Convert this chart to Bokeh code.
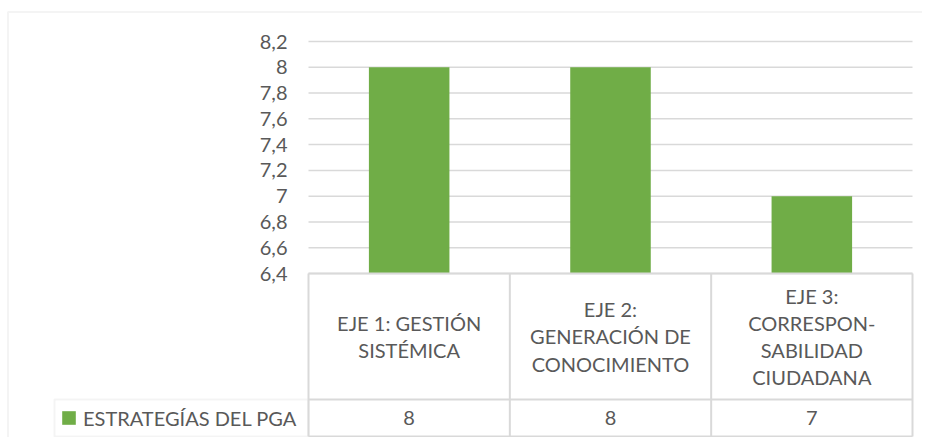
from bokeh.plotting import figure
from bokeh.models import (Range1d, FixedTicker, CustomJSTickFormatter, BoxAnnotation,
                          Legend, LegendItem, ColumnDataSource)
from bokeh.core.properties import value
from bokeh.embed import file_html
from bokeh.resources import INLINE

# ---------------- data ----------------
categories = ["EJE 1: GESTIÓN\nSISTÉMICA",
              "EJE 2:\nGENERACIÓN DE\nCONOCIMIENTO",
              "EJE 3:\nCORRESPON-\nSABILIDAD\nCIUDADANA"]
values = [8, 8, 7]
series_name = "ESTRATEGÍAS DEL PGA"
y_ticks = [6.4, 6.6, 6.8, 7.0, 7.2, 7.4, 7.6, 7.8, 8.0, 8.2]

# ---------------- layout (canvas pixels) ----------------
W, H = 922, 437
FONT = "Lato"
TXT = "#595959"
GRID = "#d9d9d9"
GREEN = "#70AD47"

x0_px, x3_px = 308, 912           # left / right edge of the plot columns
col_px = (x3_px - x0_px) / 3.0
y_top_px, y_base_px = 41, 273     # pixel rows of top / bottom tick
ypx = (y_base_px - y_top_px) / (y_ticks[-1] - y_ticks[0])
row_px, bot_px = 399, 436         # data table: row divider, bottom edge

def xd(c):
    return (c - x0_px) / col_px

def td(c):  # table range coordinate (pixels from canvas bottom)
    return H - c

x_range = Range1d(xd(0), xd(W))
y_range = Range1d(y_ticks[0] - (H - y_base_px) / ypx,
                  y_ticks[-1] + y_top_px / ypx)

p = figure(width=W, height=H, x_range=x_range, y_range=y_range,
           output_backend="svg", toolbar_location=None,
           x_axis_location=None, y_axis_location=None,
           min_border=0)
p.extra_y_ranges = {"tbl": Range1d(0, H)}
p.outline_line_color = None
p.background_fill_color = "white"
p.border_fill_color = "white"
p.xgrid.visible = False
p.ygrid.visible = False

# y axis drawn at the left edge of the plot columns
from bokeh.models import LinearAxis
ticker = FixedTicker(ticks=y_ticks)
ax = LinearAxis(ticker=ticker, fixed_location=xd(x0_px))
ax.formatter = CustomJSTickFormatter(code="return (Math.round(tick*10)/10).toString().replace('.', ',');")
ax.axis_line_color = None
ax.major_tick_line_color = None
ax.minor_tick_line_color = None
ax.major_tick_out = 0
ax.major_tick_in = 0
ax.major_label_standoff = 21
ax.major_label_text_font = FONT
ax.major_label_text_font_size = "20px"
ax.major_label_text_color = TXT
p.add_layout(ax, "left")

n = len(categories)

# horizontal gridlines at the ticks
p.segment(x0=[0] * len(y_ticks), y0=y_ticks, x1=[n] * len(y_ticks), y1=y_ticks,
          line_color=GRID, line_width=1.5)

# bars
xs = [i + 0.5 for i in range(n)]
src = ColumnDataSource(dict(x=xs, top=values, cat=categories))
bars = p.vbar(x="x", top="top", bottom=y_ticks[0], width=0.4, source=src,
              fill_color=GREEN, line_color=None)

# data table lines
t_head, t_row, t_bottom = td(y_base_px), td(row_px), td(bot_px)
h_y = [t_head, t_row, t_bottom]
p.segment(x0=[0] * 3, y0=h_y, x1=[n] * 3, y1=h_y, line_color=GRID, line_width=2,
          y_range_name="tbl")
v_x = list(range(n + 1))
p.segment(x0=v_x, y0=[t_bottom] * (n + 1), x1=v_x, y1=[t_head] * (n + 1),
          line_color=GRID, line_width=2, y_range_name="tbl")

# table texts
p.text(x=xs, y=[(t_head + t_row) / 2] * n, text=categories, text_align="center",
       text_baseline="middle", text_font=value(FONT), text_font_size="20px",
       text_color=TXT, text_line_height=1.13, y_range_name="tbl")
p.text(x=xs, y=[(t_row + t_bottom) / 2] * n, text=[str(v) for v in values],
       text_align="center", text_baseline="middle", text_font=value(FONT),
       text_font_size="20px", text_color=TXT, y_range_name="tbl")

# legend cell border
p.add_layout(BoxAnnotation(left=xd(54), right=0, top=t_row, bottom=t_bottom,
                           fill_alpha=0, line_color=GRID, line_width=2,
                           y_range_name="tbl"))
# outer chart border
p.add_layout(BoxAnnotation(left=xd(7.5), right=xd(960), top=td(11.5), bottom=td(470),
                           fill_alpha=0, line_color=GRID, line_width=2,
                           y_range_name="tbl"))

legend = Legend(items=[LegendItem(label=series_name, renderers=[bars])],
                location=(60, 7.5), padding=0, margin=0, spacing=0,
                border_line_alpha=0, background_fill_alpha=0,
                glyph_width=17, glyph_height=17, label_standoff=6,
                label_text_font=FONT, label_text_font_size="20px",
                label_text_color=TXT)
p.add_layout(legend)

open("out.html", "w").write(file_html(p, INLINE))
